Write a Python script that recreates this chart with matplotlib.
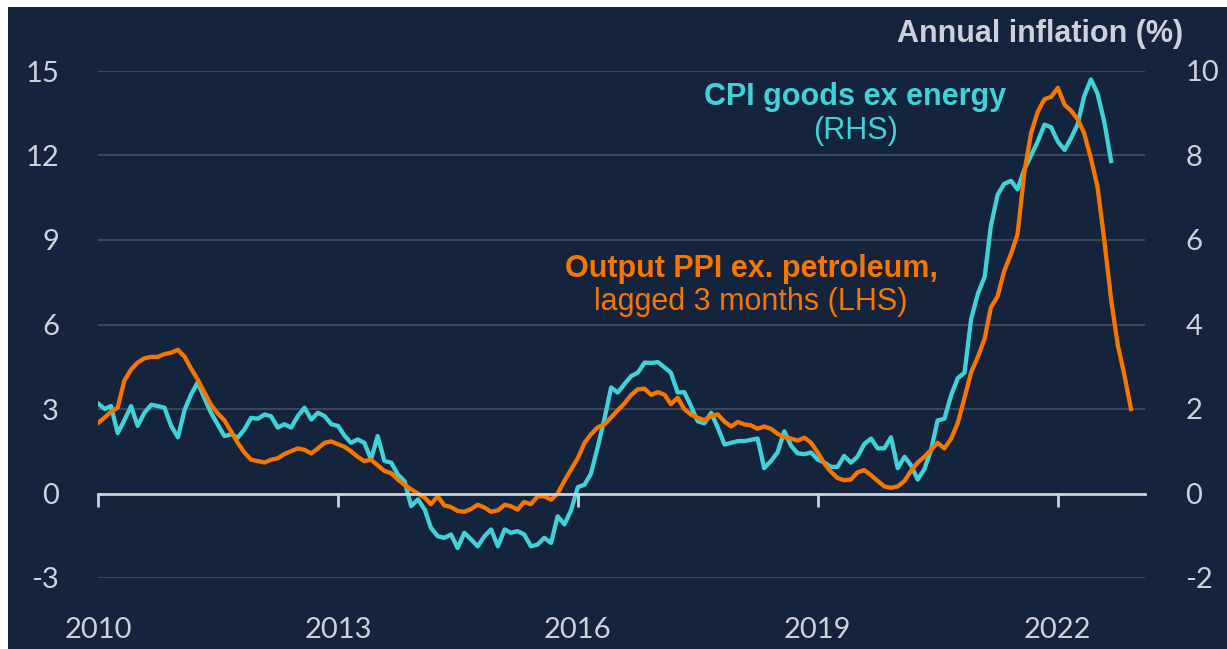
import matplotlib
matplotlib.use("Agg")
import matplotlib.pyplot as plt
import pandas as pd

# monthly, Jan 2010 onwards
ppi_lagged = [  # Output PPI ex. petroleum, lagged 3 months, % (LHS)
    2.5, 2.7, 2.9, 3.05, 4.0, 4.4, 4.65, 4.8, 4.85, 4.85,
    4.95, 5.0, 5.1, 4.85, 4.45, 4.05, 3.6, 3.15, 2.85, 2.6,
    2.2, 1.8, 1.45, 1.2, 1.15, 1.1, 1.2, 1.25, 1.4, 1.5,
    1.6, 1.55, 1.42, 1.6, 1.8, 1.85, 1.75, 1.65, 1.5, 1.3,
    1.15, 1.2, 1.0, 0.8, 0.72, 0.5, 0.3, 0.15, 0.0, -0.15,
    -0.38, -0.1, -0.42, -0.48, -0.62, -0.65, -0.55, -0.4, -0.5, -0.65,
    -0.6, -0.4, -0.45, -0.57, -0.3, -0.38, -0.1, -0.1, -0.22, 0.0,
    0.45, 0.85, 1.25, 1.8, 2.1, 2.35, 2.45, 2.7, 2.95, 3.2,
    3.5, 3.7, 3.72, 3.5, 3.6, 3.5, 3.17, 3.4, 3.0, 2.8,
    2.69, 2.6, 2.75, 2.81, 2.55, 2.38, 2.54, 2.45, 2.42, 2.3,
    2.38, 2.3, 2.12, 2.0, 1.95, 1.88, 1.98, 1.8, 1.45, 1.05,
    0.78, 0.55, 0.47, 0.5, 0.75, 0.83, 0.65, 0.45, 0.25, 0.2,
    0.25, 0.45, 0.8, 1.1, 1.3, 1.55, 1.8, 1.6, 1.95, 2.5,
    3.4, 4.3, 4.85, 5.5, 6.6, 7.0, 7.9, 8.5, 9.2, 11.4,
    12.8, 13.55, 14.0, 14.08, 14.4, 13.8, 13.6, 13.3, 12.8, 11.9,
    10.9, 9.0, 6.9, 5.3, 4.2, 3.0,
]

cpi_goods = [  # CPI goods ex energy, % (RHS)
    2.13, 2.0, 2.07, 1.43, 1.73, 2.07, 1.6, 1.91, 2.1, 2.07,
    2.03, 1.6, 1.33, 1.99, 2.33, 2.63, 2.27, 1.91, 1.64, 1.36,
    1.4, 1.32, 1.52, 1.79, 1.77, 1.87, 1.83, 1.56, 1.64, 1.56,
    1.83, 2.03, 1.75, 1.91, 1.83, 1.64, 1.6, 1.36, 1.2, 1.28,
    1.2, 0.81, 1.36, 0.77, 0.73, 0.45, 0.29, -0.3, -0.14, -0.38,
    -0.81, -1.01, -1.05, -0.97, -1.29, -0.93, -1.09, -1.25, -1.01, -0.85,
    -1.25, -0.85, -0.93, -0.89, -0.97, -1.25, -1.21, -1.05, -1.17, -0.54,
    -0.73, -0.4, 0.15, 0.21, 0.47, 1.1, 1.75, 2.51, 2.39, 2.59,
    2.78, 2.86, 3.1, 3.09, 3.11, 2.98, 2.86, 2.39, 2.4, 2.07,
    1.71, 1.66, 1.91, 1.56, 1.16, 1.2, 1.24, 1.24, 1.27, 1.3,
    0.6, 0.77, 0.97, 1.47, 1.13, 0.95, 0.93, 0.97, 0.8, 0.73,
    0.63, 0.63, 0.89, 0.73, 0.87, 1.17, 1.3, 1.07, 1.07, 1.33,
    0.6, 0.87, 0.67, 0.33, 0.57, 1.03, 1.73, 1.77, 2.33, 2.73,
    2.86, 4.13, 4.73, 5.13, 6.33, 7.07, 7.33, 7.4, 7.2, 7.67,
    8.0, 8.33, 8.73, 8.67, 8.33, 8.13, 8.4, 8.73, 9.4, 9.8,
    9.47, 8.8, 7.87,
]

left_ticks = [-3, 0, 3, 6, 9, 12, 15]
right_ticks = [-2, 0, 2, 4, 6, 8, 10]
year_ticks = ["2010", "2013", "2016", "2019", "2022"]

navy = "#13243c"
cyan = "#3fd3d8"
orange = "#f77600"
light = "#cdd1d8"
grid_col = "#3e4b5d"

ppi_dates = pd.date_range("2010-01-01", periods=len(ppi_lagged), freq="MS")
cpi_dates = pd.date_range("2010-01-01", periods=len(cpi_goods), freq="MS")
year_dates = pd.to_datetime(year_ticks)

fig = plt.figure(figsize=(12.27, 6.49), dpi=100, facecolor="white")
fig.patches.append(plt.Rectangle((8 / 1227, 0), 1, 1 - 7 / 649, transform=fig.transFigure,
                                 facecolor=navy, edgecolor="none", zorder=0))

pos = [98 / 1227, 1 - 578 / 649, (1145 - 98) / 1227, (578 - 71) / 649]
ax = fig.add_axes(pos)
ax2 = ax.twinx()

# cyan + grid underneath, orange on top
ax2.set_zorder(1)
ax.set_zorder(2)
ax.patch.set_visible(False)
ax2.patch.set_visible(False)

tick_font = dict(family="Lato", size=21)

ax2.plot(cpi_dates, cpi_goods, color=cyan, lw=3.1, solid_joinstyle="round")
ax2.set_ylim(-2, 10)
ax2.set_yticks(right_ticks)
ax2.set_yticklabels([str(t) for t in right_ticks], **tick_font)
ax2.grid(axis="y", color=grid_col, lw=1.3)
ax2.set_axisbelow(True)
ax2.tick_params(axis="y", length=0, pad=29, colors=light)

ax.plot(ppi_dates, ppi_lagged, color=orange, lw=3.1, solid_joinstyle="round")
ax.set_ylim(-3, 15)
ax.set_yticks(left_ticks)
ax.set_yticklabels([str(t) for t in left_ticks], **tick_font)
ax.tick_params(axis="y", length=0, pad=28, colors=light)
ax.set_xlim(pd.Timestamp("2010-01-01"), pd.Timestamp("2023-02-03"))

# zero line with year ticks hanging below it
ax.spines["bottom"].set_position(("data", 0))
ax.spines["bottom"].set_color(light)
ax.spines["bottom"].set_linewidth(2)
ax.set_xticks(year_dates)
ax.tick_params(axis="x", direction="out", length=9, width=2, color=light, labelbottom=False)

sec = ax.secondary_xaxis("bottom")
sec.set_xticks(year_dates)
sec.set_xticklabels(year_ticks, **tick_font)
sec.tick_params(axis="x", length=0, pad=28, colors=light)
sec.spines["bottom"].set_visible(False)

for a in (ax, ax2):
    for s in ("top", "left", "right"):
        a.spines[s].set_visible(False)
ax2.spines["bottom"].set_visible(False)

txt = dict(family="Liberation Sans", size=22)
fig.text(1183 / 1227, 1 - 34 / 649, "Annual inflation (%)", ha="right", va="center",
         color=light, weight="bold", **txt)
fig.text(855 / 1227, 1 - 105 / 649, "CPI goods ex energy", ha="center", va="baseline",
         color=cyan, weight="bold", **txt)
fig.text(856 / 1227, 1 - 139 / 649, "(RHS)", ha="center", va="baseline", color=cyan, **txt)
fig.text(751 / 1227, 1 - 277 / 649, "Output PPI ex. petroleum,", ha="center", va="baseline",
         color=orange, weight="bold", **txt)
fig.text(751 / 1227, 1 - 310 / 649, "lagged 3 months (LHS)", ha="center", va="baseline",
         color=orange, **txt)

fig.savefig("out.png", dpi=100, facecolor=fig.get_facecolor())
